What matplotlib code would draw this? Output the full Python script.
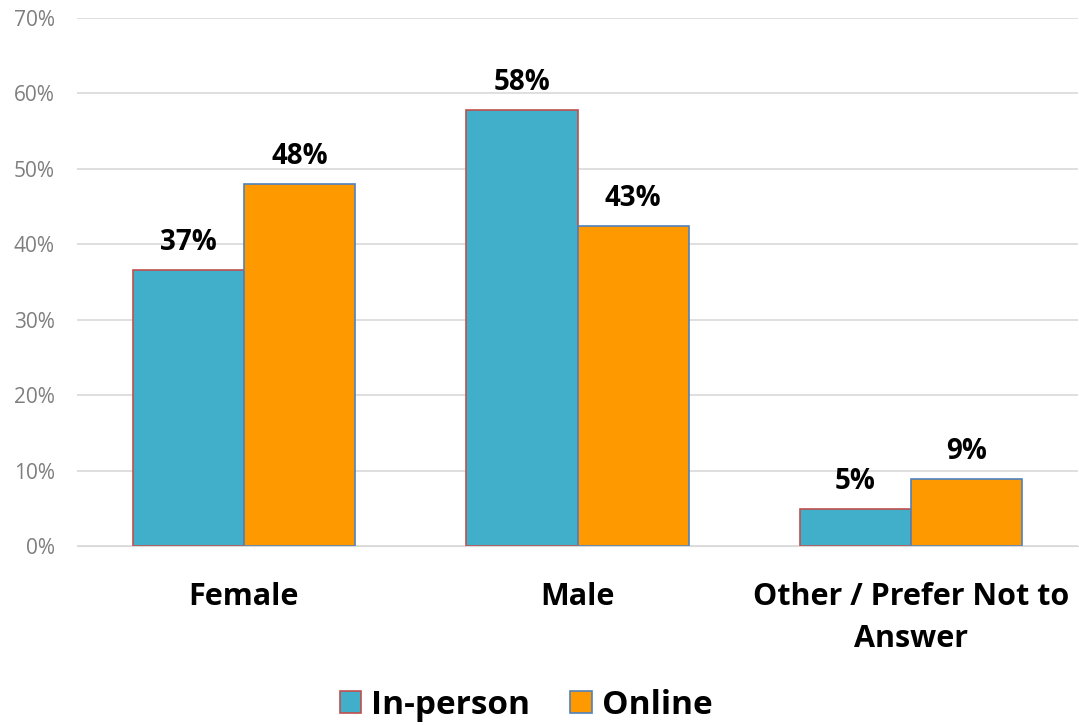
import numpy as np
import matplotlib.pyplot as plt

categories = ["Female", "Male", "Other / Prefer Not to\nAnswer"]
in_person = [36.6, 57.8, 4.9]
online = [48.0, 42.4, 8.9]
in_person_labels = ["37%", "58%", "5%"]
online_labels = ["48%", "43%", "9%"]

plt.rcParams['font.family'] = ['Open Sans', 'DejaVu Sans']

fig = plt.figure(figsize=(10.79, 7.25), dpi=100)
ax = fig.add_axes([77 / 1079, 1 - 546 / 725, 1001 / 1079, 528 / 725])

x = np.arange(len(categories))
w = 1 / 3
b1 = ax.bar(x - w / 2, in_person, w, color="#41AFCA", edgecolor="#C0504D", linewidth=1.2, label="In-person")
b2 = ax.bar(x + w / 2, online, w, color="#FF9900", edgecolor="#4F81BD", linewidth=1.2, label="Online")

for bars, labels in [(b1, in_person_labels), (b2, online_labels)]:
    for bar, lab in zip(bars, labels):
        ax.annotate(lab, (bar.get_x() + bar.get_width() / 2, bar.get_height()),
                    xytext=(0, 20), textcoords="offset points",
                    ha="center", va="center", fontsize=20, fontweight="bold")

ax.set_xlim(-0.5, 2.5)
ax.set_ylim(0, 70)
ax.set_yticks(range(0, 71, 10))
ax.set_yticklabels([f"{v}%" for v in range(0, 71, 10)], color="#7F7F7F", fontsize=15)
ax.set_xticks(x)
ax.set_xticklabels(categories, fontsize=22, fontweight="bold", linespacing=1.5)
ax.tick_params(axis="both", length=0)
ax.tick_params(axis="x", pad=26)
ax.tick_params(axis="y", pad=16)
ax.grid(axis="y", color="#D9D9D9", linewidth=1.2)
ax.set_axisbelow(True)
for s in ["top", "right", "left"]:
    ax.spines[s].set_visible(False)
ax.spines["bottom"].set_color("#D9D9D9")

fig.legend(loc="center", bbox_to_anchor=(526 / 1079, 1 - 705 / 725), ncol=2, frameon=False,
           prop={"size": 24, "weight": "bold"}, handlelength=0.65, handleheight=0.65,
           handletextpad=0.3, columnspacing=1.2)

fig.savefig("out.png", dpi=100)
